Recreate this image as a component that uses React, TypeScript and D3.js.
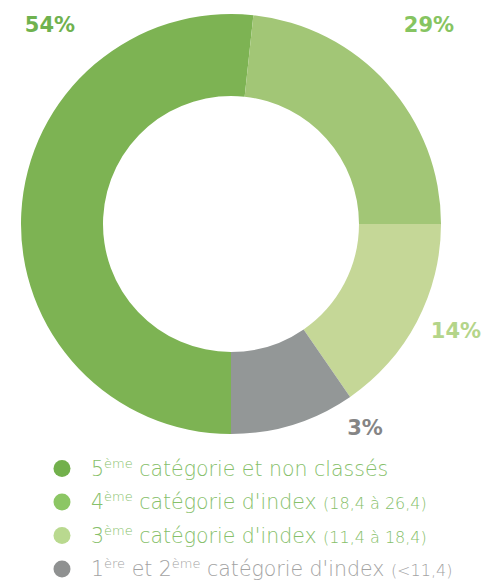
import React from "react";
import * as d3 from "d3";

const categories = [
  "5ème catégorie et non classés",
  "4ème catégorie d'index (18,4 à 26,4)",
  "3ème catégorie d'index (11,4 à 18,4)",
  "1ère et 2ème catégorie d'index (<11,4)",
];
// slice sizes as drawn in the picture
const drawnShares = [51.7, 23.3, 15.4, 9.6];
const percentLabels = ["54%", "29%", "14%", "3%"];
const sliceColors = ["#7db353", "#a2c676", "#c5d797", "#939797"];
const labelColors = ["#6fb24f", "#86c461", "#b4d58a", "#858585"];
const legendColors = ["#72b04c", "#8cc664", "#b9d98f", "#8f9191"];
const legendTextColors = ["#86c06a", "#86c06a", "#86c06a", "#a3a3a3"];

// legend pieces: [main, sup, rest]
const legendParts: [string, string, string][] = [
  ["5", "ème", " catégorie et non classés"],
  ["4", "ème", " catégorie d'index "],
  ["3", "ème", " catégorie d'index "],
  ["1", "ère", " et 2"],
];
const legendTails = ["", "(18,4 à 26,4)", "(11,4 à 18,4)", ""];

const W = 484;
const H = 581;
const cx = 231;
const cy = 224;
const outerR = 210;
const innerR = 128;

const labelPos = [
  { x: 50, y: 32 },
  { x: 429, y: 32 },
  { x: 456, y: 338 },
  { x: 365, y: 435 },
];

export default function App() {
  const pie = d3
    .pie<number>()
    .sort(null)
    .value((d) => d)
    .startAngle(Math.PI)
    .endAngle(3 * Math.PI);
  const arcs = pie(drawnShares);
  const arc = d3.arc<d3.PieArcDatum<number>>().innerRadius(innerR).outerRadius(outerR);
  const font = "'DejaVu Sans', sans-serif";
  return (
    <svg
      width={W}
      height={H}
      style={{ position: "absolute", left: 0, top: 0, background: "#fff" }}
    >
      <g transform={`translate(${cx},${cy})`}>
        {arcs.map((a, i) => (
          <path key={i} d={arc(a) || ""} fill={sliceColors[i]} />
        ))}
      </g>
      {percentLabels.map((t, i) => (
        <text
          key={i}
          x={labelPos[i].x}
          y={labelPos[i].y}
          textAnchor="middle"
          fontFamily={font}
          fontWeight={700}
          fontSize={21}
          fill={labelColors[i]}
        >
          {t}
        </text>
      ))}
      {categories.map((c, i) => {
        const y = 468.5 + i * 33.5;
        const p = legendParts[i];
        return (
          <g key={c}>
            <circle cx={62} cy={y} r={8.5} fill={legendColors[i]} />
            <text
              x={91}
              y={y + 7}
              fontFamily={font}
              fontWeight={200}
              fontSize={20.5}
              fill={legendTextColors[i]}
            >
              <tspan>{p[0]}</tspan>
              <tspan fontSize={13} dy={-8}>{p[1]}</tspan>
              <tspan dy={8}>{p[2]}</tspan>
              {i === 3 ? (
                <>
                  <tspan fontSize={13} dy={-8}>ème</tspan>
                  <tspan dy={8}> catégorie d'index </tspan>
                  <tspan fontSize={16}>(&lt;11,4)</tspan>
                </>
              ) : legendTails[i] ? (
                <tspan fontSize={16}>{legendTails[i]}</tspan>
              ) : null}
            </text>
          </g>
        );
      })}
    </svg>
  );
}
